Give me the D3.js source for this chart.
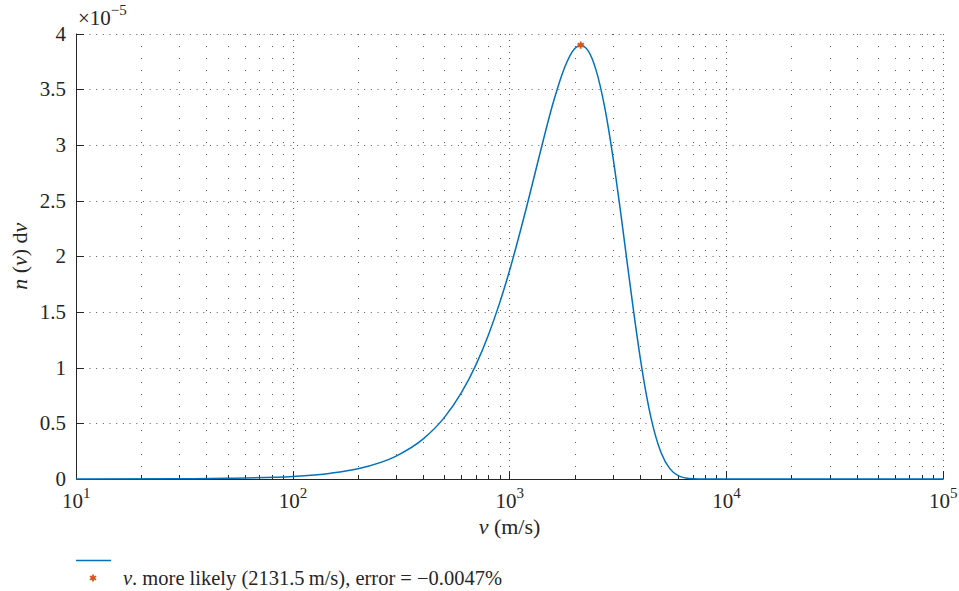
<!DOCTYPE html>
<html>
<head>
<meta charset="utf-8">
<script src="https://cdn.jsdelivr.net/npm/d3@7"></script>
<style>
  body { margin: 0; background: #fff; }
</style>
</head>
<body>
<div id="chart"></div>
<script>
// velocity (m/s)
var speeds = [10, 30, 50, 100, 150, 200, 300, 400, 500, 600, 700, 800, 900, 1000,
  1200, 1400, 1600, 1800, 2000, 2131.5, 2300, 2500, 2750, 3000, 3250, 3500, 3750,
  4000, 4250, 4500, 5000, 5500, 6000, 6500, 7000, 8000, 10000, 30000, 100000];
// n(v)dv in units of 1e-5
var density = [0.0002, 0.002, 0.006, 0.023, 0.052, 0.092, 0.206, 0.36, 0.551, 0.775, 1.025, 1.296, 1.579, 1.87,
  2.444, 2.967, 3.396, 3.700, 3.865, 3.895, 3.848, 3.680, 3.336, 2.893, 2.407, 1.926, 1.484,
  1.102, 0.790, 0.547, 0.238, 0.091, 0.030, 0.009, 0.0024, 0.0001, 0, 0, 0];
var peakSpeed = 2131.5, peakValue = 3.895;

var yTicks = [0, 0.5, 1, 1.5, 2, 2.5, 3, 3.5, 4];
var xDecades = [1, 2, 3, 4, 5];

var width = 959, height = 591;
var margin = { left: 76, right: 16, top: 33.5, bottom: 112 };
var serif = "'Liberation Serif', 'Times New Roman', Times, 'DejaVu Serif', serif";

var svg = d3.select("#chart").append("svg")
    .attr("width", width)
    .attr("height", height)
    .attr("font-family", serif)
    .style("font-family", serif);

var x = d3.scaleLog().domain([10, 100000]).range([margin.left, width - margin.right]);
var y = d3.scaleLinear().domain([0, 4]).range([height - margin.bottom, margin.top]);

var x0 = x.range()[0], x1 = x.range()[1], y0 = y.range()[0], y1 = y.range()[1];

// minor values 2..9 in every decade
var minor = [];
for (var d = 1; d < 5; d++) {
  for (var k = 2; k <= 9; k++) minor.push(k * Math.pow(10, d));
}
var major = xDecades.map(e => Math.pow(10, e));

var grid = svg.append("g").attr("stroke", "#262626").attr("stroke-width", 1).attr("fill", "none");

grid.selectAll(".minor").data(minor).enter().append("line")
    .attr("x1", d => Math.round(x(d)) + 0.5).attr("x2", d => Math.round(x(d)) + 0.5)
    .attr("y1", y0).attr("y2", y1)
    .attr("stroke-opacity", 0.75)
    .attr("stroke-dasharray", "1,11");

grid.selectAll(".major").data(major).enter().append("line")
    .attr("x1", d => Math.round(x(d)) + 0.5).attr("x2", d => Math.round(x(d)) + 0.5)
    .attr("y1", y0).attr("y2", y1)
    .attr("stroke-opacity", 0.75)
    .attr("stroke-dasharray", "1,5");

grid.selectAll(".hgrid").data(yTicks).enter().append("line")
    .attr("x1", x0).attr("x2", x1)
    .attr("y1", d => Math.round(y(d)) + 0.5).attr("y2", d => Math.round(y(d)) + 0.5)
    .attr("stroke-opacity", 0.75)
    .attr("stroke-dasharray", "1,5.7");

// axes
var ax = svg.append("g").attr("stroke", "#262626").attr("stroke-width", 1);
ax.append("line").attr("x1", x0).attr("x2", x1 + 0.5).attr("y1", y0 + 0.5).attr("y2", y0 + 0.5);
ax.append("line").attr("x1", x0 + 0.5).attr("x2", x0 + 0.5).attr("y1", y1).attr("y2", y0);

ax.selectAll(".xmaj").data(major).enter().append("line")
    .attr("x1", d => Math.round(x(d)) + 0.5).attr("x2", d => Math.round(x(d)) + 0.5)
    .attr("y1", y0).attr("y2", y0 - 8);
ax.selectAll(".xmin").data(minor).enter().append("line")
    .attr("x1", d => Math.round(x(d)) + 0.5).attr("x2", d => Math.round(x(d)) + 0.5)
    .attr("y1", y0).attr("y2", y0 - 4);
ax.selectAll(".ytk").data(yTicks).enter().append("line")
    .attr("x1", x0).attr("x2", x0 + 8)
    .attr("y1", d => Math.round(y(d)) + 0.5).attr("y2", d => Math.round(y(d)) + 0.5);

var ink = "#262626";

// tick labels
svg.append("g").selectAll("text").data(yTicks).enter().append("text")
    .attr("x", x0 - 10)
    .attr("y", d => y(d) + 7)
    .attr("text-anchor", "end")
    .attr("font-size", 21)
    .attr("fill", ink)
    .text(d => d);

var xl = svg.append("g").selectAll("text").data(xDecades).enter().append("text")
    .attr("x", d => x(Math.pow(10, d)) - 14)
    .attr("y", y0 + 29)
    .attr("font-size", 21)
    .attr("fill", ink);
xl.append("tspan").text("10");
xl.append("tspan").attr("dy", -10).attr("font-size", 15).text(d => d);

// multiplier
var mult = svg.append("text").attr("x", 78).attr("y", 25).attr("font-size", 21).attr("fill", ink);
mult.append("tspan").text("\u00d710");
mult.append("tspan").attr("dy", -10).attr("font-size", 15).text("\u22125");

// axis labels
var xlab = svg.append("text")
    .attr("x", (x0 + x1) / 2).attr("y", 534)
    .attr("text-anchor", "middle").attr("font-size", 22).attr("fill", ink);
xlab.append("tspan").attr("font-style", "italic").text("\u03bd");
xlab.append("tspan").text(" (m/s)");

var ylab = svg.append("text")
    .attr("transform", "translate(27," + ((y0 + y1) / 2) + ") rotate(-90)")
    .attr("text-anchor", "middle").attr("font-size", 22).attr("fill", ink);
ylab.append("tspan").attr("font-style", "italic").text("n");
ylab.append("tspan").text(" (");
ylab.append("tspan").attr("font-style", "italic").text("\u03bd");
ylab.append("tspan").text(") d");
ylab.append("tspan").attr("font-style", "italic").text("\u03bd");

// curve
var points = speeds.map((s, i) => [s, density[i]]);
var line = d3.line()
    .x(d => x(d[0]))
    .y(d => y(d[1]))
    .curve(d3.curveMonotoneX);

svg.append("path")
    .datum(points)
    .attr("d", line)
    .attr("fill", "none")
    .attr("stroke", "#0072BD")
    .attr("stroke-width", 1.5);

var star = d3.symbol().type(d3.symbolAsterisk).size(36);
svg.append("path")
    .attr("d", star())
    .attr("transform", "translate(" + x(peakSpeed) + "," + y(peakValue) + ")")
    .attr("stroke", "#D95319")
    .attr("stroke-width", 1.8)
    .attr("fill", "none");

// legend
svg.append("line")
    .attr("x1", 76).attr("x2", 111).attr("y1", 560.5).attr("y2", 560.5)
    .attr("stroke", "#0072BD").attr("stroke-width", 1.5);
svg.append("path")
    .attr("d", star())
    .attr("transform", "translate(93,578)")
    .attr("stroke", "#D95319")
    .attr("stroke-width", 1.8)
    .attr("fill", "none");
var lt = svg.append("text").attr("x", 123).attr("y", 585).attr("font-size", 20.5).attr("fill", ink);
lt.append("tspan").attr("font-style", "italic").text("\u03bd");
lt.append("tspan").text(". more likely (2131.5\u2009m/s), error = \u22120.0047%");
</script>
</body>
</html>
